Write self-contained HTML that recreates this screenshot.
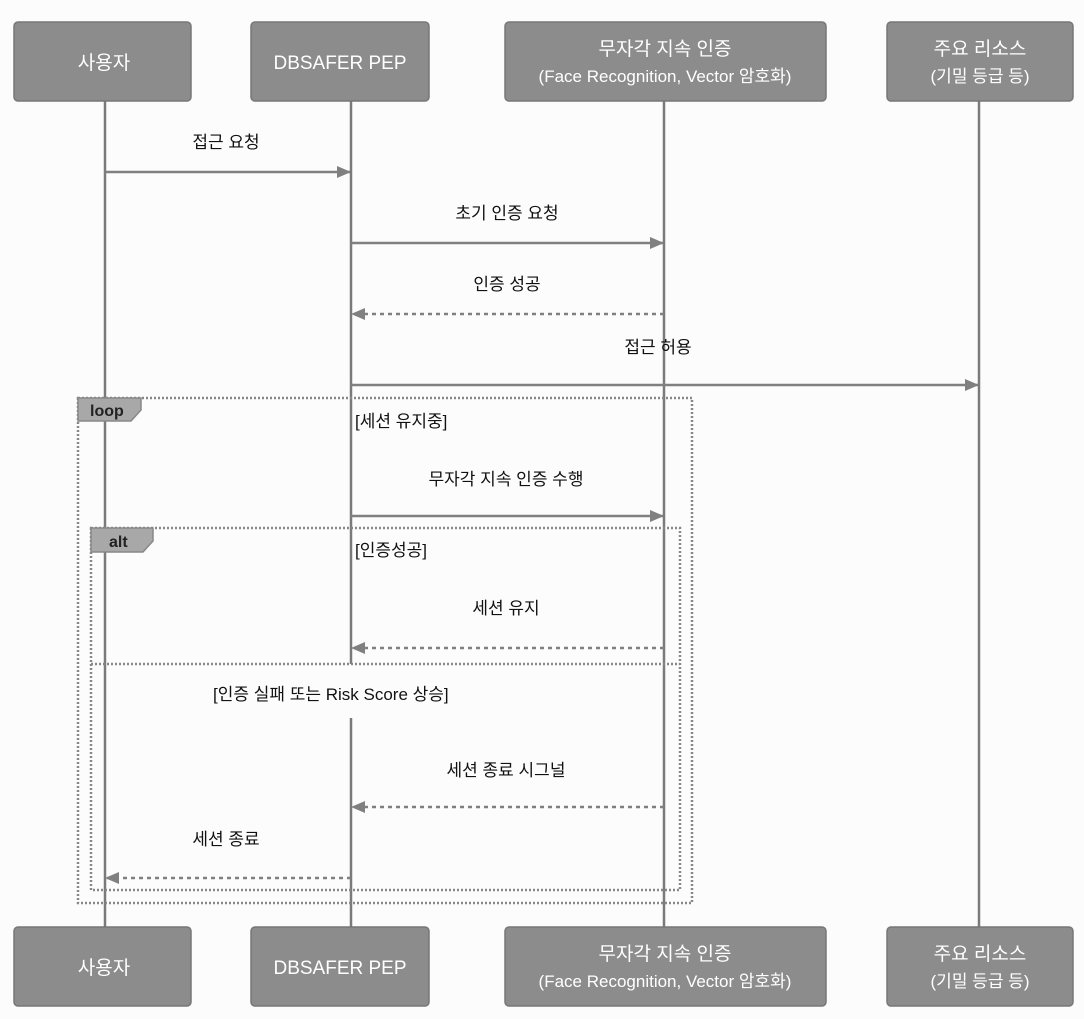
<!DOCTYPE html>
<html><head><meta charset="utf-8"><style>
body{margin:0;background:#fcfcfc;}
svg{display:block;font-family:"Liberation Sans","Noto Sans CJK KR",sans-serif;}
</style></head><body>
<svg width="1084" height="1019" viewBox="0 0 1084 1019" xmlns="http://www.w3.org/2000/svg">
<defs>
<marker id="a" markerWidth="14" markerHeight="12" refX="13" refY="6" orient="auto" markerUnits="userSpaceOnUse"><path d="M0,0 L14,6 L0,12 Z" fill="#808080"/></marker>
</defs>
<g stroke="#7a7a7a" stroke-width="2.5">
<line x1="105" y1="101" x2="105" y2="927"/>
<line x1="351" y1="101" x2="351" y2="664"/>
<line x1="351" y1="718" x2="351" y2="927"/>
<line x1="664" y1="101" x2="664" y2="927"/>
<line x1="979" y1="101" x2="979" y2="927"/>
</g>
<g fill="#8c8c8c" stroke="#777" stroke-width="1.5">
<rect x="14" y="22" width="177" height="79" rx="4"/>
<rect x="251" y="22" width="178" height="79" rx="4"/>
<rect x="505" y="22" width="321" height="79" rx="4"/>
<rect x="887" y="22" width="186" height="79" rx="4"/>
<rect x="14" y="927" width="177" height="79" rx="4"/>
<rect x="251" y="927" width="178" height="79" rx="4"/>
<rect x="505" y="927" width="321" height="79" rx="4"/>
<rect x="887" y="927" width="186" height="79" rx="4"/>
</g>
<g fill="#fff" font-size="19" text-anchor="middle">
<text x="104" y="69">사용자</text>
<text x="340" y="69">DBSAFER PEP</text>
<text x="665" y="55">무자각 지속 인증</text>
<text x="665" y="82" font-size="17">(Face Recognition, Vector 암호화)</text>
<text x="980" y="55">주요 리소스</text>
<text x="980" y="82" font-size="17">(기밀 등급 등)</text>
<text x="104" y="974">사용자</text>
<text x="340" y="974">DBSAFER PEP</text>
<text x="665" y="960">무자각 지속 인증</text>
<text x="665" y="987" font-size="17">(Face Recognition, Vector 암호화)</text>
<text x="980" y="960">주요 리소스</text>
<text x="980" y="987" font-size="17">(기밀 등급 등)</text>
</g>
<g stroke="#808080" stroke-width="2.5" fill="none">
<line x1="105" y1="172" x2="350" y2="172" marker-end="url(#a)"/>
<line x1="351" y1="243" x2="663" y2="243" marker-end="url(#a)"/>
<line x1="664" y1="314" x2="352" y2="314" stroke-dasharray="4,4" marker-end="url(#a)"/>
<line x1="351" y1="385" x2="978" y2="385" marker-end="url(#a)"/>
<line x1="351" y1="516" x2="663" y2="516" marker-end="url(#a)"/>
<line x1="664" y1="648" x2="352" y2="648" stroke-dasharray="4,4" marker-end="url(#a)"/>
<line x1="664" y1="807" x2="352" y2="807" stroke-dasharray="4,4" marker-end="url(#a)"/>
<line x1="351" y1="878" x2="106" y2="878" stroke-dasharray="4,4" marker-end="url(#a)"/>
</g>
<g stroke="#888" stroke-width="2.5" fill="none" stroke-dasharray="2,2">
<rect x="78" y="398" width="614" height="505"/>
<rect x="91" y="528" width="589" height="362"/>
<line x1="91" y1="664" x2="680" y2="664"/>
</g>
<path d="M78,398 H141 V410 L131,421 H78 Z" fill="#a8a8a8" stroke="#888" stroke-width="1.5"/>
<path d="M91,528 H153 V541 L143,552 H91 Z" fill="#a8a8a8" stroke="#888" stroke-width="1.5"/>
<text x="90" y="416" font-size="16" font-weight="bold" fill="#222">loop</text>
<text x="109" y="547" font-size="16" font-weight="bold" fill="#222">alt</text>
<g font-size="17" fill="#111" text-anchor="middle">
<text x="226" y="148">접근 요청</text>
<text x="507" y="219">초기 인증 요청</text>
<text x="507" y="290">인증 성공</text>
<text x="658" y="353">접근 허용</text>
<text x="506" y="485">무자각 지속 인증 수행</text>
<text x="506" y="614">세션 유지</text>
<text x="506" y="776">세션 종료 시그널</text>
<text x="226" y="845">세션 종료</text>
</g>
<g font-size="17" fill="#111">
<text x="355" y="427">[세션 유지중]</text>
<text x="355" y="556">[인증성공]</text>
<text x="213" y="700">[인증 실패 또는 Risk Score 상승]</text>
</g>
</svg>
</body></html>
